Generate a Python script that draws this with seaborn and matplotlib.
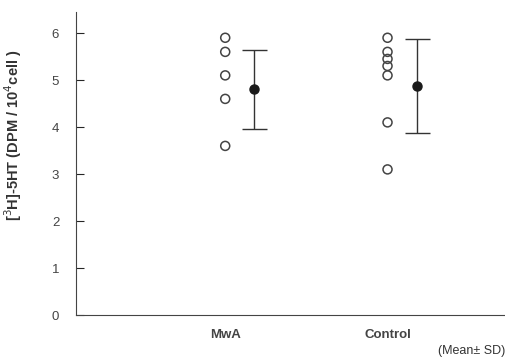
import numpy as np
import pandas as pd
import matplotlib
matplotlib.use("Agg")
import matplotlib.pyplot as plt
import seaborn as sns

groups = ["MwA", "Control"]
mwa_values = [5.9, 5.6, 5.1, 4.6, 3.6]
control_values = [5.9, 5.6, 5.45, 5.3, 5.1, 4.1, 3.1]
group_means = [4.8, 4.87]
group_sd = [0.85, 1.0]

sns.set_style("ticks")
plt.rcParams["font.family"] = ["Liberation Sans", "DejaVu Sans"]

data = pd.DataFrame({
    "group": ["MwA"] * len(mwa_values) + ["Control"] * len(control_values),
    "value": mwa_values + control_values,
})
data["x"] = data["group"].map({g: i for i, g in enumerate(groups)})

fig = plt.figure(figsize=(5.06, 3.61), dpi=100)
ax = fig.add_axes([0.150, 0.127, 0.85, 0.84])

sns.scatterplot(x="x", y="value", data=data, ax=ax, marker="o", s=42,
                facecolors="none", edgecolor="#444444", linewidth=1.1, legend=False)

mean_x = np.arange(len(groups)) + 0.18
ax.errorbar(mean_x, group_means, yerr=group_sd, fmt="o", color="#1a1a1a",
            markersize=6.5, ecolor="#333333", elinewidth=1.0, capsize=9, capthick=1.0)

ax.set_xlim(-0.92, 1.73)
ax.set_ylim(0, 6.45)
ax.set_yticks(range(0, 7))
ax.set_xticks(range(len(groups)))
ax.set_xticklabels(groups, fontsize=9.5, fontweight="bold", color="#444444")
ax.tick_params(axis="x", length=0, pad=10)
ax.tick_params(axis="y", direction="in", length=6, labelsize=9.5, labelcolor="#444444", pad=12)
ax.set_xlabel("")
ax.set_ylabel("[$^3$H]-5HT (DPM / 10$^4$cell )", fontsize=10.5, fontweight="bold",
              color="#333333")
ax.yaxis.set_label_coords(-0.12, 0.594)
sns.despine(ax=ax)
ax.spines["left"].set_color("#444444")
ax.spines["bottom"].set_color("#444444")

fig.text(0.998, 0.01, "(Mean\u00b1 SD)", ha="right", va="bottom", fontsize=9, color="#333333")

fig.savefig("out.png", dpi=100)
